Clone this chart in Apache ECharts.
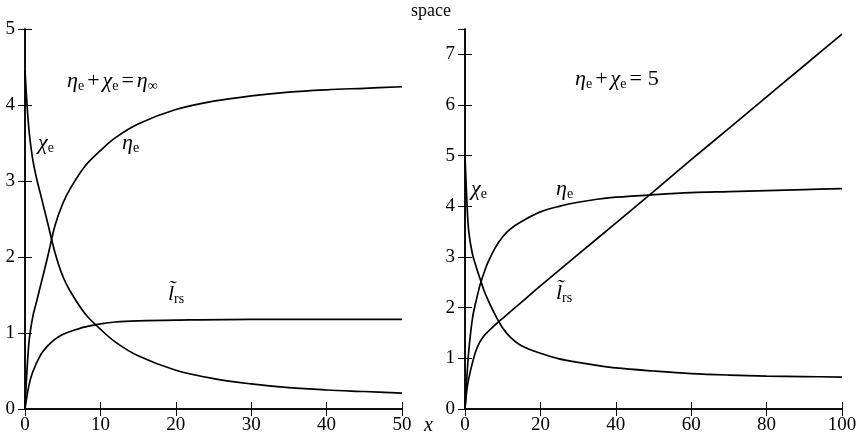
<!DOCTYPE html>
<html>
<head>
<meta charset="utf-8">
<script src="https://cdn.jsdelivr.net/npm/echarts@6/dist/echarts.min.js"></script>
<style>html,body{margin:0;padding:0;background:#fff}#c{width:861px;height:440px}</style>
</head>
<body>
<div id="c"></div>
<script>
// ---- Left panel (eta_e + chi_e = eta_inf) ----
var leftX      = [0, 0.5, 1, 1.5, 2, 3, 4, 5, 6, 8, 10, 12, 15, 20, 25, 30, 35, 40, 45, 50];
var leftEta    = [0, 0.85, 1.2, 1.4, 1.6, 2.0, 2.42, 2.7, 2.9, 3.2, 3.4, 3.57, 3.75, 3.94, 4.05, 4.12, 4.17, 4.2, 4.22, 4.24];
var leftChi    = [4.45, 3.7, 3.3, 3.05, 2.85, 2.45, 2.05, 1.75, 1.55, 1.25, 1.05, 0.88, 0.7, 0.51, 0.4, 0.33, 0.28, 0.25, 0.23, 0.21];
var leftLrsX   = [0, 0.5, 1, 2, 3, 4, 5, 6, 8, 10, 12, 15, 20, 30, 40, 50];
var leftLrs    = [0, 0.3, 0.48, 0.7, 0.83, 0.92, 0.98, 1.02, 1.08, 1.12, 1.145, 1.16, 1.17, 1.18, 1.18, 1.18];
// ---- Right panel (eta_e + chi_e = 5) ----
var rightX     = [0, 0.5, 1, 2, 3, 4, 5, 6, 8, 10, 12, 15, 20, 25, 30, 35, 40, 50, 60, 70, 80, 90, 100];
var rightEta   = [0, 0.62, 1.15, 1.8, 2.15, 2.45, 2.68, 2.88, 3.18, 3.4, 3.55, 3.7, 3.89, 4.0, 4.08, 4.14, 4.18, 4.23, 4.27, 4.29, 4.31, 4.33, 4.35];
var rightChi   = [5.0, 4.1, 3.5, 3.05, 2.8, 2.57, 2.35, 2.17, 1.86, 1.6, 1.42, 1.25, 1.1, 0.99, 0.92, 0.86, 0.81, 0.75, 0.7, 0.67, 0.65, 0.64, 0.63];
var rightLrsX  = [0, 0.5, 1, 2, 3, 4, 5, 6, 8, 10, 15, 20, 30, 40, 50, 60, 70, 80, 90, 100];
var rightLrs   = [0, 0.38, 0.6, 0.92, 1.17, 1.33, 1.44, 1.52, 1.66, 1.79, 2.11, 2.43, 3.05, 3.67, 4.29, 4.92, 5.54, 6.16, 6.78, 7.4];
// ---- ticks ----
var leftXTicks = [0, 10, 20, 30, 40, 50];
var leftYTicks = [0, 1, 2, 3, 4, 5];
var rightXTicks = [0, 20, 40, 60, 80, 100];
var rightYTicks = [0, 1, 2, 3, 4, 5, 6, 7];

function pairs(xs, ys) { return xs.map(function (x, i) { return [x, ys[i]]; }); }

var SERIF = '"Liberation Serif","DejaVu Serif",serif';
var lbl = { color: '#000', fontFamily: SERIF, fontSize: 19 };

function xAx(grid, ticks, pos, showLabel) {
  var iv = ticks[1] - ticks[0];
  return {
    type: 'value', gridIndex: grid, min: ticks[0], max: ticks[ticks.length - 1], interval: iv, position: pos,
    axisLine: { show: true, lineStyle: { color: '#000', width: 1.5 } },
    axisTick: { show: true, inside: true, length: 7, lineStyle: { color: '#000', width: 1 } },
    axisLabel: Object.assign({ show: showLabel, margin: 7 }, lbl),
    splitLine: { show: false }
  };
}
function yAx(grid, ticks, max, pos, showLabel) {
  var iv = ticks[1] - ticks[0];
  return {
    type: 'value', gridIndex: grid, min: ticks[0], max: max, interval: iv, position: pos,
    axisLine: { show: true, lineStyle: { color: '#000', width: 1.5 } },
    axisTick: { show: true, inside: true, length: 7, lineStyle: { color: '#000', width: 1 } },
    axisLabel: Object.assign({ show: showLabel, margin: 10, showMaxLabel: max === ticks[ticks.length - 1] }, lbl),
    splitLine: { show: false }
  };
}

function line(xi, yi, data) {
  return {
    type: 'line', xAxisIndex: xi, yAxisIndex: yi, data: data,
    showSymbol: false, smooth: 0.35,
    lineStyle: { color: '#000', width: 1.7 }, silent: true, animation: false
  };
}

var sub = { fontFamily: SERIF, fontSize: 14, color: '#000', padding: [10, 0, 0, 0] };
var mth = { fontFamily: SERIF, fontSize: 22, fontStyle: 'italic', color: '#000' };
var nrm = { fontFamily: SERIF, fontSize: 22, color: '#000', padding: [0, 3, 0, 3] };
var richSet = { m: mth, s: sub, n: nrm };

function label(x, y, text) {
  return { type: 'text', left: x, top: y, style: { text: text, rich: richSet, fill: '#000' } };
}

var option = {
  animation: false,
  backgroundColor: '#fff',
  grid: [
    { left: 25, top: 29, width: 377, height: 380 },
    { left: 465, top: 29, width: 377, height: 380 }
  ],
  xAxis: [
    xAx(0, leftXTicks, 'bottom', true),
    xAx(1, rightXTicks, 'bottom', true),
    xAx(0, leftXTicks, 'top', false),
    xAx(1, rightXTicks, 'top', false)
  ],
  yAxis: [
    yAx(0, leftYTicks, 5, 'left', true),
    yAx(1, rightYTicks, 7.5, 'left', true),
    yAx(0, leftYTicks, 5, 'right', false),
    yAx(1, rightYTicks, 7.5, 'right', false)
  ],
  series: [
    line(0, 0, pairs(leftX, leftEta)),
    line(0, 0, pairs(leftX, leftChi)),
    line(0, 0, pairs(leftLrsX, leftLrs)),
    line(1, 1, pairs(rightX, rightEta)),
    line(1, 1, pairs(rightX, rightChi)),
    line(1, 1, pairs(rightLrsX, rightLrs))
  ],
  graphic: [
    { type: 'text', left: 411, top: 2, style: { text: 'space', font: '18px ' + SERIF, fill: '#000' } },
    { type: 'text', left: 424, top: 416, style: { text: 'x', font: 'italic 20px ' + SERIF, fill: '#000' } },
    label(67, 70, '{m|η}{s|e}{n|+}{m|χ}{s|e}{n|=}{m|η}{s|∞}'),
    label(38, 132, '{m|χ}{s|e}'),
    label(122, 132, '{m|η}{s|e}'),
    label(168, 283, '{m|l\u0303}{s|rs}'),
    label(575, 68, '{m|η}{s|e}{n|+}{m|χ}{s|e}{n|=}{n|5}'),
    label(471, 178, '{m|χ}{s|e}'),
    label(556, 178, '{m|η}{s|e}'),
    label(556, 282, '{m|l\u0303}{s|rs}')
  ]
};

var chart = echarts.init(document.getElementById('c'), null, { renderer: 'canvas' });
chart.setOption(option);
</script>
</body>
</html>
